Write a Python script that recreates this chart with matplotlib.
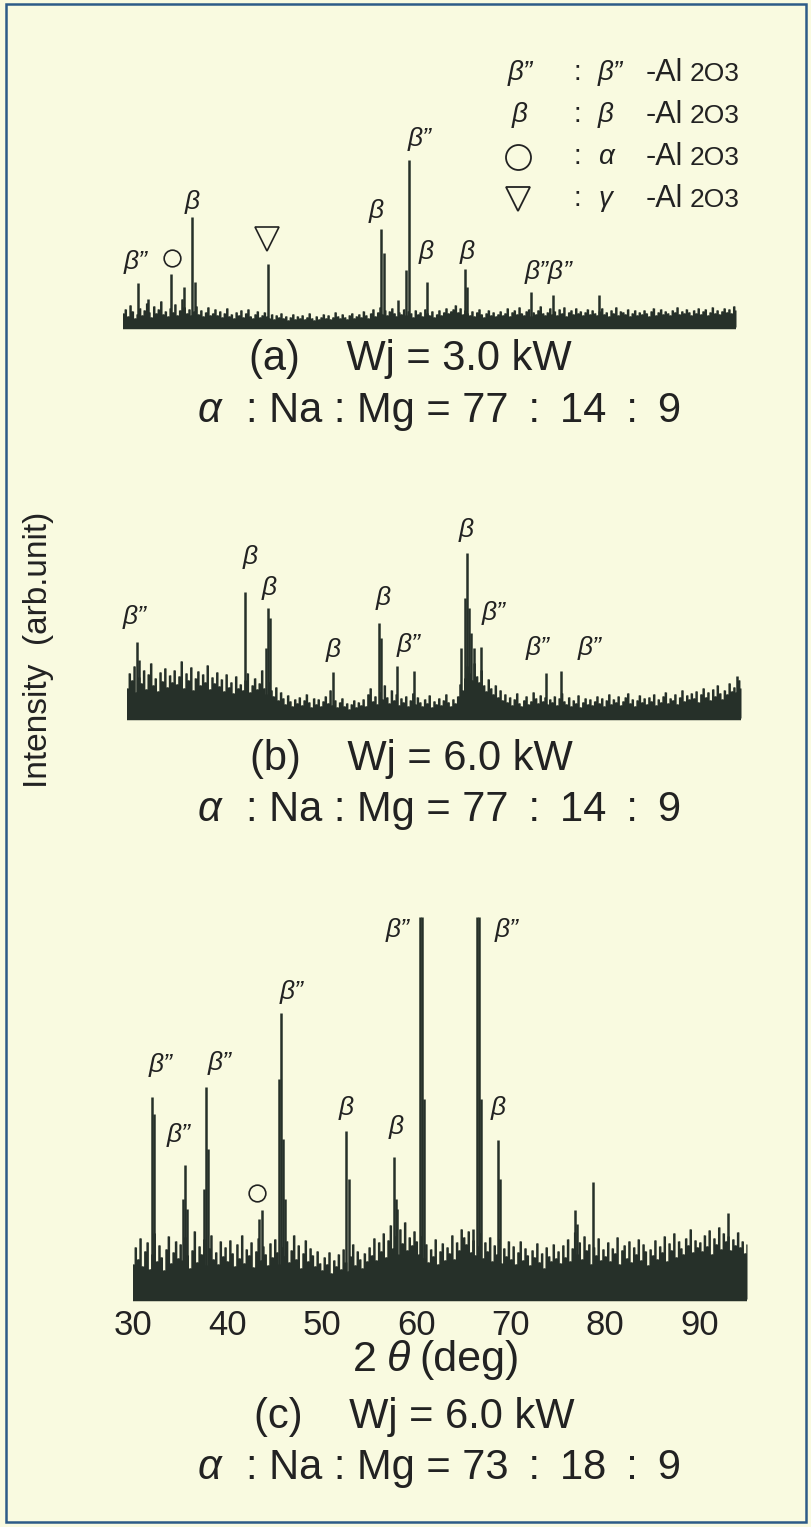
import numpy as np
import matplotlib
matplotlib.use("Agg")
import matplotlib.pyplot as plt
from matplotlib.patches import Rectangle

W, H = 811, 1527
BG = "#f9fae0"
INK = "#263029"
TXT = "#222222"
FRAME = "#2d5b88"
SANS = ["Liberation Sans", "DejaVu Sans"]

# 2theta sampling of the background trace, 30-95 deg in 0.25 deg steps
two_theta = np.linspace(30, 95, 261)

# background counts (arb., 1 unit = 1 px of trace height)
noise_a = [14, 18, 11, 22, 16, 9, 13, 19, 12, 17, 24, 15, 10, 21, 14, 18, 26, 13, 16, 11,
           19, 15, 23, 12, 17, 28, 20, 14, 18, 12, 16, 21, 13, 17, 11, 15, 20, 12, 14, 18,
           12, 16, 10, 14, 19, 11, 13, 9, 15, 12, 17, 10, 14, 18, 11, 9, 13, 16, 10, 12,
           15, 11, 9, 13, 8, 12, 10, 14, 9, 11, 7, 10, 13, 8, 11, 9, 12, 8, 10, 14,
           9, 7, 11, 8, 10, 13, 9, 12, 8, 10, 15, 11, 9, 13, 10, 8, 12, 14, 9, 11,
           13, 10, 16, 12, 9, 14, 18, 11, 15, 20, 13, 17, 12, 16, 19, 14, 11, 15, 13, 18,
           12, 16, 14, 10, 17, 13, 15, 11, 18, 14, 12, 16, 10, 13, 17, 12, 15, 19, 14, 16,
           18, 22, 15, 19, 13, 17, 14, 12, 16, 11, 15, 18, 13, 10, 14, 17, 12, 15, 11, 13,
           16, 12, 14, 19, 11, 15, 17, 13, 20, 14, 12, 16, 18, 11, 15, 13, 17, 21, 14, 12,
           15, 19, 13, 16, 12, 18, 14, 20, 11, 15, 17, 13, 19, 14, 16, 12, 15, 18, 13, 17,
           14, 12, 16, 19, 13, 15, 11, 17, 14, 20, 12, 16, 15, 13, 18, 11, 14, 17, 12, 15,
           13, 17, 14, 11, 16, 19, 12, 15, 18, 13, 16, 14, 12, 17, 15, 20, 13, 16, 14, 18,
           15, 12, 17, 14, 19, 13, 16, 18, 12, 15, 20, 14, 17, 13, 16, 19, 15, 18, 14, 21, 17]

noise_b = [30, 45, 38, 52, 26, 41, 35, 48, 29, 44, 55, 33, 40, 27, 46, 37, 50, 31, 43, 36,
           48, 34, 42, 57, 30, 45, 38, 51, 28, 40, 47, 33, 44, 36, 53, 29, 41, 35, 46, 32,
           39, 27, 44, 31, 36, 25, 42, 30, 34, 28, 38, 45, 26, 33, 40, 29, 35, 48, 30, 24,
           36, 28, 22, 31, 18, 26, 20, 14, 23, 17, 12, 19, 15, 21, 13, 18, 24, 16, 11, 20,
           14, 19, 12, 17, 22, 15, 28, 13, 18, 11, 16, 20, 12, 15, 9, 14, 18, 11, 16, 13,
           19, 12, 24, 30, 17, 22, 14, 26, 19, 33, 21, 15, 28, 18, 24, 13, 20, 16, 22, 12,
           18, 25, 14, 21, 16, 12, 19, 15, 23, 11, 17, 14, 20, 13, 18, 24, 16, 12, 19, 15,
           22, 34, 28, 40, 52, 45, 38, 55, 42, 36, 48, 33, 27, 39, 30, 24, 33, 21, 28, 18,
           24, 16, 21, 13, 19, 25, 15, 12, 18, 22, 14, 17, 26, 20, 15, 23, 17, 21, 14, 19,
           16, 22, 13, 20, 25, 17, 14, 21, 12, 18, 15, 23, 11, 16, 20, 14, 19, 13, 17, 22,
           15, 20, 12, 18, 24, 14, 19, 16, 22, 13, 17, 21, 25, 15, 19, 12, 18, 23, 16, 20,
           14, 21, 17, 24, 13, 19, 16, 22, 26, 15, 20, 18, 24, 14, 21, 28, 17, 23, 19, 25,
           20, 27, 16, 24, 30, 21, 26, 18, 29, 22, 33, 25, 19, 28, 24, 35, 27, 31, 26, 38, 30]

noise_c = [35, 52, 40, 61, 33, 48, 57, 30, 45, 66, 38, 54, 42, 29, 50, 63, 36, 47, 58, 41,
           55, 39, 62, 44, 31, 49, 68, 37, 53, 45, 60, 34, 51, 64, 40, 47, 35, 58, 43, 52,
           38, 59, 46, 33, 55, 41, 64, 36, 50, 44, 57, 32, 48, 61, 39, 53, 45, 34, 56, 42,
           60, 47, 35, 52, 43, 58, 37, 49, 64, 40, 54, 31, 46, 59, 38, 51, 44, 33, 48, 36,
           29, 42, 35, 47, 26, 39, 33, 45, 30, 50, 37, 28, 43, 55, 34, 48, 40, 31, 46, 38,
           52, 44, 61, 39, 57, 48, 66, 42, 59, 74, 51, 63, 45, 70, 56, 77, 49, 62, 54, 68,
           58, 45, 63, 41, 55, 37, 50, 43, 60, 35, 48, 56, 39, 52, 46, 64, 40, 57, 49, 70,
           62, 55, 68, 47, 59, 44, 53, 66, 41, 57, 48, 62, 38, 54, 45, 60, 36, 51, 43, 58,
           40, 53, 35, 47, 58, 39, 51, 44, 34, 49, 42, 56, 37, 46, 31, 52, 43, 38, 55, 41,
           48, 36, 54, 42, 60, 38, 51, 67, 45, 57, 40, 63, 49, 55, 35, 52, 44, 61, 39, 50,
           43, 57, 38, 51, 46, 62, 35, 49, 54, 41, 58, 37, 52, 45, 60, 39, 55, 48, 34, 50,
           44, 59, 40, 53, 47, 63, 38, 56, 49, 66, 42, 58, 51, 45, 61, 54, 70, 47, 59, 52,
           57, 48, 64, 53, 69, 45, 61, 55, 72, 50, 66, 58, 63, 49, 60, 54, 67, 52, 58, 46, 55]

# diffraction peaks: 2theta (deg) and height
peaks_a_pos = [31.6, 32.7, 35.1, 36.5, 37.3, 37.6, 45.4, 57.4, 57.7, 59.2, 60.0, 60.3,
               62.2, 66.3, 66.5, 73.3, 75.6, 80.5]
peaks_a_h = [44, 28, 53, 40, 110, 45, 63, 98, 74, 27, 57, 167,
             45, 58, 40, 35, 32, 32]

peaks_b_pos = [31.1, 31.3, 42.5, 44.7, 44.9, 45.1, 51.8, 56.7, 56.9, 58.6, 60.4,
               65.4, 65.8, 66.0, 66.2, 66.4, 66.7, 67.5, 74.4, 75.9, 94.6]
peaks_b_h = [76, 58, 126, 70, 110, 100, 46, 95, 80, 52, 47,
             70, 120, 165, 110, 85, 70, 71, 45, 47, 42]

peaks_c_pos = [32.0, 32.2, 35.3, 35.5, 35.7, 37.5, 37.7, 37.9, 43.3, 43.7,
               45.5, 45.7, 45.9, 46.1, 52.6, 52.9, 57.6, 57.8, 58.0,
               60.4, 60.6, 60.8, 66.0, 66.4, 66.6, 66.8, 68.6, 68.8,
               76.8, 77.0, 78.7, 93.0]
peaks_c_h = [202, 185, 100, 134, 90, 110, 212, 150, 80, 89,
             220, 286, 160, 100, 168, 120, 142, 100, 90,
             382, 382, 200, 70, 382, 382, 200, 159, 120,
             89, 75, 117, 86]

tick_deg = [30, 40, 50, 60, 70, 80, 90]

fig = plt.figure(figsize=(W / 100, H / 100), dpi=100)
fig.patch.set_facecolor(BG)

# pixel-space overlay for captions, legend and frame
ov = fig.add_axes([0, 0, 1, 1])
ov.set_xlim(0, W)
ov.set_ylim(H, 0)
ov.axis("off")
ov.add_patch(Rectangle((6, 4), 800, 1518, fill=False, ec=FRAME, lw=1.8))


def spectrum_axes(left, right, baseline, height, pad=3):
    # y data units are pixels above the baseline
    ax = fig.add_axes([left / W, (H - baseline - pad) / H,
                       (right - left) / W, (height + pad) / H])
    ax.set_xlim(30, 95)
    ax.set_ylim(-pad, height)
    ax.patch.set_alpha(0)
    for s in ax.spines.values():
        s.set_visible(False)
    ax.set_xticks([])
    ax.set_yticks([])
    return ax


def draw_pattern(ax, noise, pk_pos, pk_h):
    ax.fill_between(two_theta, 0, noise, step="mid", color=INK, lw=0)
    ax.vlines(two_theta, 0, noise, color=INK, lw=1.0)
    ax.vlines(pk_pos, 0, pk_h, color=INK, lw=1.8)
    ax.axhline(0, color=INK, lw=2.5)


def beta(ax, x, y, s):
    ax.text(x, y, s, ha="center", va="center", fontsize=19, style="italic",
            family=SANS, color=TXT, clip_on=False)


def circle(ax, x, y, ms):
    ax.plot(x, y, marker="o", ms=ms, mfc="none", mec=TXT, mew=1.2, clip_on=False)


def triangle(ax, x, y, ms):
    ax.plot(x, y, marker="v", ms=ms, mfc="none", mec=TXT, mew=1.2, clip_on=False)


def caption(xc, y, text):
    ov.text(xc, y, text, ha="center", va="baseline", fontsize=30, family=SANS, color=TXT)


def ratio_line(y, text):
    ov.text(221, y, "\u03b1", ha="right", va="baseline", fontsize=30, style="italic",
            family=SANS, color=TXT)
    ov.text(246, y, text, ha="left", va="baseline", fontsize=30, family=SANS, color=TXT)


B2 = "\u03b2\u201d"
B1 = "\u03b2"
T = "\u2009"

# (a)
ax_a = spectrum_axes(123, 736, 327, 250)
draw_pattern(ax_a, noise_a, peaks_a_pos, peaks_a_h)
beta(ax_a, 31.3, 65, B2)
circle(ax_a, 35.2, 69, 12)
beta(ax_a, 37.3, 125, B1)
triangle(ax_a, 45.3, 88, 17)
beta(ax_a, 56.8, 116, B1)
beta(ax_a, 61.4, 188, B2)
beta(ax_a, 62.2, 75, B1)
beta(ax_a, 66.5, 75, B1)
beta(ax_a, 75.1, 55, B2 + B2)
caption(410, 370, "(a)    Wj = 3.0 kW")
ratio_line(422, f": Na : Mg = 77 {T}:{T} 14 {T}:{T} 9")

# legend
rows = [(73, B2, B2), (115, B1, B1), (157, None, "\u03b1"), (199, None, "\u03b3")]
for i, (y, sym, phase) in enumerate(rows):
    if sym is not None:
        ov.text(520, y, sym, ha="center", va="center", fontsize=20, style="italic",
                family=SANS, color=TXT)
    elif i == 2:
        ov.plot(518, y, marker="o", ms=18, mfc="none", mec=TXT, mew=1.3)
    else:
        ov.plot(518, y, marker="v", ms=17, mfc="none", mec=TXT, mew=1.3)
    ov.text(577, y, ":", ha="center", va="center", fontsize=20, family=SANS, color=TXT)
    ov.text(598, y, phase, ha="left", va="center", fontsize=20, style="italic",
            family=SANS, color=TXT)
    ov.text(646, y + 8, "-Al", ha="left", va="baseline", fontsize=22, family=SANS, color=TXT)
    ov.text(690, y + 8, "2O3", ha="left", va="baseline", fontsize=19, family=SANS, color=TXT)

# (b)
ax_b = spectrum_axes(127, 741, 718, 250)
draw_pattern(ax_b, noise_b, peaks_b_pos, peaks_b_h)
beta(ax_b, 30.8, 101, B2)
beta(ax_b, 43.0, 161, B1)
beta(ax_b, 45.1, 130, B1)
beta(ax_b, 51.8, 68, B1)
beta(ax_b, 57.1, 120, B1)
beta(ax_b, 59.8, 73, B2)
beta(ax_b, 65.9, 188, B1)
beta(ax_b, 68.8, 105, B2)
beta(ax_b, 73.5, 70, B2)
beta(ax_b, 79.0, 70, B2)
caption(411, 770, "(b)    Wj = 6.0 kW")
ratio_line(821, f": Na : Mg = 77 {T}:{T} 14 {T}:{T} 9")

# (c)
ax_c = spectrum_axes(133, 747, 1299, 382)
draw_pattern(ax_c, noise_c, peaks_c_pos, peaks_c_h)
beta(ax_c, 32.9, 234, B2)
beta(ax_c, 34.8, 164, B2)
beta(ax_c, 39.2, 236, B2)
circle(ax_c, 43.1, 106, 12)
beta(ax_c, 46.8, 307, B2)
beta(ax_c, 52.6, 191, B1)
beta(ax_c, 57.9, 172, B1)
beta(ax_c, 58.0, 369, B2)
beta(ax_c, 69.5, 369, B2)
beta(ax_c, 68.7, 191, B1)
ax_c.set_xticks(tick_deg)
ax_c.set_xticklabels([str(t) for t in tick_deg], fontsize=25, family=SANS, color=TXT)
ax_c.tick_params(axis="x", length=0, pad=5)

ov.text(377, 1371, "2", ha="right", va="baseline", fontsize=31, family=SANS, color=TXT)
ov.text(399, 1371, "\u03b8", ha="center", va="baseline", fontsize=31, style="italic",
        family=SANS, color=TXT)
ov.text(419, 1371, "(deg)", ha="left", va="baseline", fontsize=31, family=SANS, color=TXT)
caption(414, 1428, "(c)    Wj = 6.0 kW")
ratio_line(1479, f": Na : Mg = 73 {T}:{T} 18 {T}:{T} 9")

ov.text(39, 650, "Intensity  (arb.unit)", rotation=90, ha="center", va="center",
        fontsize=24, family=SANS, color=TXT)

fig.savefig("out.png", dpi=100, facecolor=BG)
